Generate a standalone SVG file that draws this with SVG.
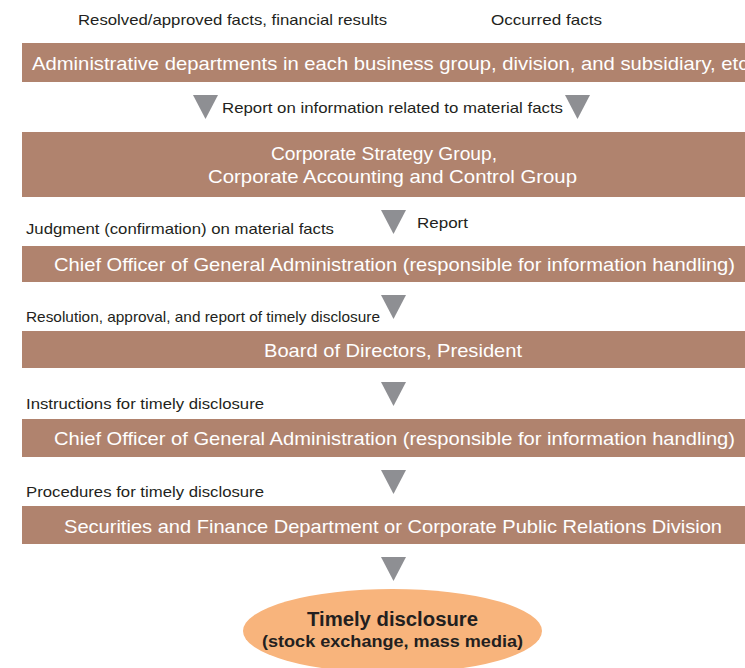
<svg xmlns="http://www.w3.org/2000/svg" width="745" height="668" viewBox="0 0 745 668">
<style>
.box{fill:#B0836E}
.bt{font-family:"Liberation Sans",Arial,sans-serif;font-size:18.5px;fill:#ffffff}
.lb{font-family:"Liberation Sans",Arial,sans-serif;font-size:15px;fill:#231f20}
.tri{fill:#8E8F93}
.et{font-family:"Liberation Sans",Arial,sans-serif;font-weight:bold;fill:#231f20}
</style>
<rect width="745" height="668" fill="#ffffff"/>
<g id="labels">
<text class="lb" x="78" y="25" textLength="309" lengthAdjust="spacingAndGlyphs">Resolved/approved facts, financial results</text>
<text class="lb" x="491" y="25" textLength="111" lengthAdjust="spacingAndGlyphs">Occurred facts</text>
<text class="lb" x="222" y="113" textLength="341" lengthAdjust="spacingAndGlyphs">Report on information related to material facts</text>
<text class="lb" x="26" y="234" textLength="308" lengthAdjust="spacingAndGlyphs">Judgment (confirmation) on material facts</text>
<text class="lb" x="417" y="228" textLength="51" lengthAdjust="spacingAndGlyphs">Report</text>
<text class="lb" x="26" y="322" textLength="354" lengthAdjust="spacingAndGlyphs">Resolution, approval, and report of timely disclosure</text>
<text class="lb" x="26" y="409" textLength="238" lengthAdjust="spacingAndGlyphs">Instructions for timely disclosure</text>
<text class="lb" x="26" y="497" textLength="238" lengthAdjust="spacingAndGlyphs">Procedures for timely disclosure</text>
</g>
<g id="connectors">
<polygon class="tri" points="193,95 218,95 205.5,119"/>
<polygon class="tri" points="565,95 590,95 577.5,119"/>
<polygon class="tri" points="381,210 406,210 393.5,234"/>
<polygon class="tri" points="381,295 406,295 393.5,319"/>
<polygon class="tri" points="381,382 406,382 393.5,406"/>
<polygon class="tri" points="381,470 406,470 393.5,494"/>
<polygon class="tri" points="381,557 406,557 393.5,581"/>
</g>
<g id="n1">
<rect class="box" x="22" y="43" width="723" height="39"/>
<text class="bt" x="32" y="70" textLength="722" lengthAdjust="spacingAndGlyphs">Administrative departments in each business group, division, and subsidiary, etc.</text>
</g>
<g id="n2">
<rect class="box" x="22" y="132" width="723" height="65"/>
<text class="bt" x="271" y="160" textLength="226" lengthAdjust="spacingAndGlyphs">Corporate Strategy Group,</text>
<text class="bt" x="208" y="183" textLength="369" lengthAdjust="spacingAndGlyphs">Corporate Accounting and Control Group</text>
</g>
<g id="n3">
<rect class="box" x="22" y="246" width="723" height="36"/>
<text class="bt" x="54" y="271" textLength="681" lengthAdjust="spacingAndGlyphs">Chief Officer of General Administration (responsible for information handling)</text>
</g>
<g id="n4">
<rect class="box" x="22" y="331" width="723" height="37"/>
<text class="bt" x="264" y="357" textLength="258" lengthAdjust="spacingAndGlyphs">Board of Directors, President</text>
</g>
<g id="n5">
<rect class="box" x="22" y="419" width="723" height="38"/>
<text class="bt" x="54" y="445" textLength="681" lengthAdjust="spacingAndGlyphs">Chief Officer of General Administration (responsible for information handling)</text>
</g>
<g id="n6">
<rect class="box" x="22" y="506" width="723" height="38"/>
<text class="bt" x="64" y="533" textLength="658" lengthAdjust="spacingAndGlyphs">Securities and Finance Department or Corporate Public Relations Division</text>
</g>
<g id="n7">
<ellipse cx="392.5" cy="631" rx="149.5" ry="42" fill="#F8B47C"/>
<text class="et" x="307" y="626" font-size="19.5" textLength="171" lengthAdjust="spacingAndGlyphs">Timely disclosure</text>
<text class="et" x="262" y="647" font-size="16.5" textLength="261" lengthAdjust="spacingAndGlyphs">(stock exchange, mass media)</text>
</g>
</svg>
